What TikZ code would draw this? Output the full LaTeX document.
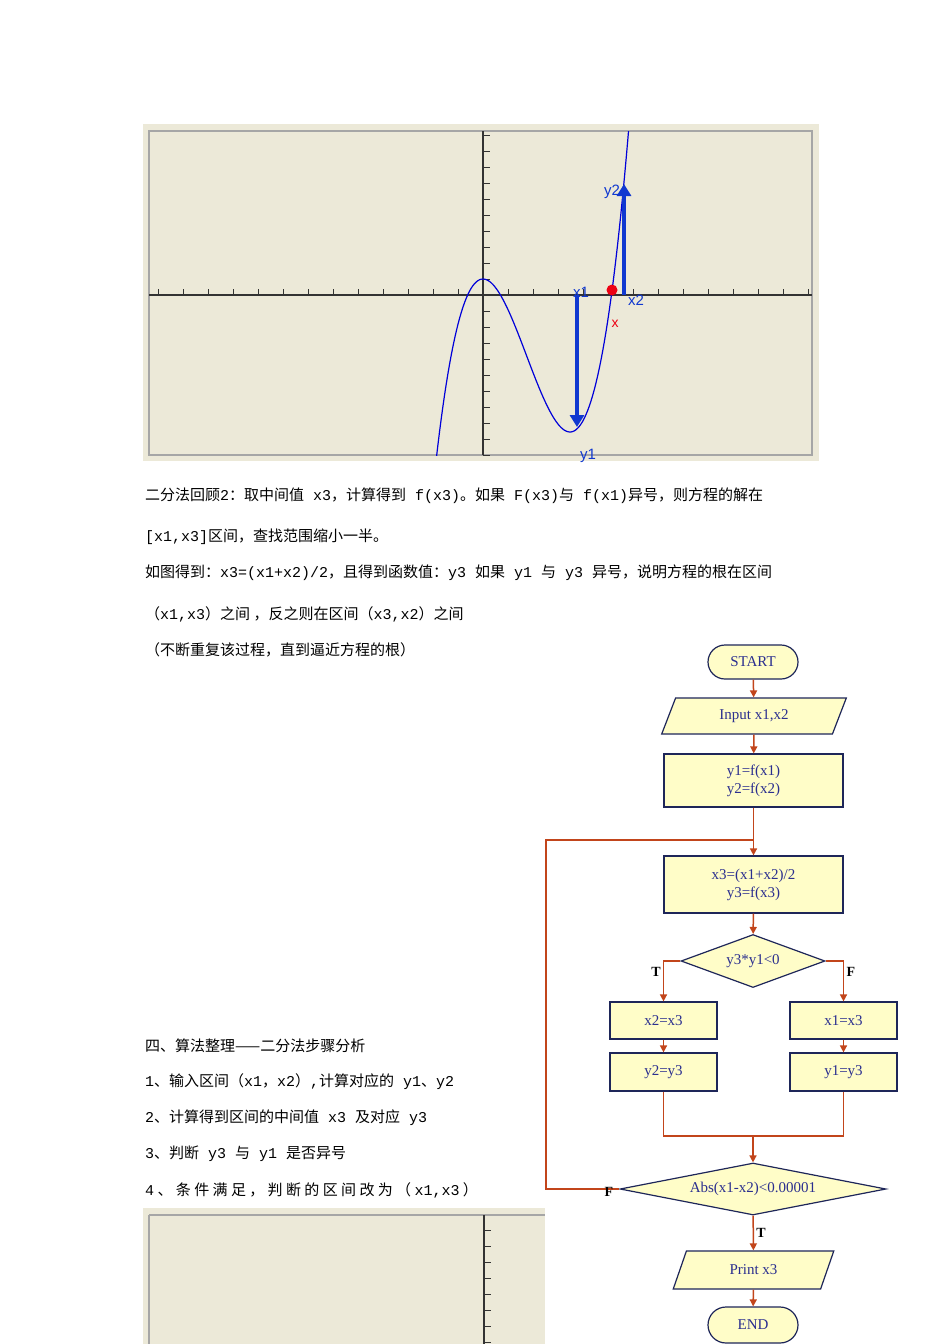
\documentclass[tikz,border=0pt]{standalone}
\usepackage{fontspec}
\setmainfont{Liberation Serif}
\newfontfamily\cjk{Noto Sans CJK SC}
\newfontfamily\lsans{Liberation Sans}
\newfontfamily\lmono{Liberation Mono}
\newcommand{\mm}[1]{{\lmono #1}}
\usetikzlibrary{shapes.geometric,arrows.meta}
\definecolor{fcfill}{HTML}{FFFDC8}
\definecolor{fcdraw}{HTML}{1E2659}
\definecolor{fctext}{HTML}{2B2F8F}
\definecolor{fcarrow}{HTML}{C2451B}
\definecolor{gbg}{HTML}{ECE9D8}
\definecolor{gblue}{HTML}{1038D0}
\tikzset{
 fcbox/.style={draw=fcdraw,line width=1.2pt,fill=fcfill,text=fctext,font=\fontsize{15}{18}\selectfont,align=center,inner sep=0pt},
 fcarr/.style={draw=fcarrow,line width=1.5pt,-{Triangle[length=7pt,width=7pt]}},
 fcline/.style={draw=fcarrow,line width=1.5pt},
 body/.style={anchor=west,font=\cjk\fontsize{15}{17}\selectfont,inner sep=0pt},
 tf/.style={font=\bfseries\fontsize{14}{16}\selectfont,inner sep=0pt},
 glab/.style={text=gblue,font=\lsans\fontsize{15}{17}\selectfont,inner sep=0pt},
 garr/.style={gblue,line width=4pt,-{Triangle[length=12pt,width=14pt]}}
}
\begin{document}
\begin{tikzpicture}[x=1pt,y=-1pt]
\useasboundingbox[fill=white] (0,0) rectangle (950,1344);
% graph 1
\fill[gbg] (143,124) rectangle (819,461);
\draw[gray!70,line width=1.5pt] (149,131) rectangle (812,455);
\draw[black!80,line width=1.2pt] (149,295) -- (812,295);
\draw[black!80,line width=1.2pt] (483,131) -- (483,455);
\foreach \i in {-13,...,13} {\draw[black!80] (483+25*\i,295) -- (483+25*\i,289);}
\foreach \i in {-10,...,10} {\draw[black!80] (483,295+16*\i) -- (490,295+16*\i);}
\begin{scope}
\clip (149,131) rectangle (812,455);
\draw[blue!85!black,line width=1.2pt,domain=-5:14.8,samples=120,variable=\t]
  plot ({483+10*\t},{295-(16+1.394*(\t*\t*\t/3-4.35*\t*\t))});
\end{scope}
\draw[garr] (577,295) -- (577,427);
\draw[garr] (624,295) -- (624,184);
\fill[red!70!purple] (612,290) circle (5.5);
\node[glab] (ly2) at (612,192) {y2};
\node[glab] (lx1) at (581,292) {x1};
\node[glab] (lx2) at (636,300) {x2};
\node[text=red!70!purple,font=\lsans\fontsize{14}{16}\selectfont,inner sep=0pt] (lx) at (615,324) {x};
\node[glab] (ly1) at (588,456) {y1};
% graph 2
\fill[gbg] (143,1208) rectangle (545,1344);
\draw[gray!70,line width=1.5pt] (149,1215) -- (545,1215);
\draw[gray!70,line width=1.5pt] (149,1215) -- (149,1344);
\draw[black!80,line width=1.2pt] (484,1215) -- (484,1344);
\foreach \i in {0,...,7} {\draw[black!80] (484,1230+16*\i) -- (491,1230+16*\i);}
% texts
\node[body] (t1) at (145,496) {二分法回顾\mm{2}：取中间值\mm{ x3}，计算得到\mm{ f(x3)}。如果\mm{ F(x3)}与\mm{ f(x1)}异号，则方程的解在};
\node[body] (t2) at (145,537) {\mm{[x1,x3]}区间，查找范围缩小一半。};
\node[body] (t3) at (145,573) {如图得到：\mm{x3=(x1+x2)/2}，且得到函数值：\mm{y3 }如果\mm{ y1 }与\mm{ y3 }异号，说明方程的根在区间};
\node[body] (t4) at (145,614) {（\mm{x1,x3}）之间 ，反之则在区间（\mm{x3,x2}）之间};
\node[body] (t5) at (145,650) {（不断重复该过程，直到逼近方程的根）};
\node[body] (t6) at (145,1046) {四、算法整理——二分法步骤分析};
\node[body] (t7) at (145,1082) {\mm{1}、输入区间（\mm{x1}，\mm{x2}）\mm{,}计算对应的\mm{ y1}、\mm{y2}};
\node[body] (t8) at (145,1118) {\mm{2}、计算得到区间的中间值\mm{ x3 }及对应\mm{ y3}};
\node[body] (t9) at (145,1154) {\mm{3}、判断\mm{ y3 }与\mm{ y1 }是否异号};
\node[body] (t10) at (145,1190) {\mm{4} 、 条 件 满 足 ， 判 断 的 区 间 改 为 （ \mm{x1,x3} ）};
% flowchart
\node[fcbox,rounded corners=17pt,minimum width=90pt,minimum height=34pt] (start) at (753,662) {START};
\node[fcbox,trapezium,trapezium left angle=65,trapezium right angle=115,minimum width=186pt,minimum height=36pt,trapezium stretches=true] (input) at (754,716) {Input x1,x2};
\node[fcbox,minimum width=179pt,minimum height=53pt] (yy) at (753.5,780.5) {y1=f(x1)\\y2=f(x2)};
\node[fcbox,minimum width=179pt,minimum height=57pt] (x3) at (753.5,884.5) {x3=(x1+x2)/2\\y3=f(x3)};
\node[fcbox,diamond,aspect=2.75,minimum width=144pt,minimum height=53pt] (d1) at (753,961) {y3*y1<0};
\node[fcbox,minimum width=107pt,minimum height=37pt] (a1) at (663.5,1020.5) {x2=x3};
\node[fcbox,minimum width=107pt,minimum height=37pt] (b1) at (843.5,1020.5) {x1=x3};
\node[fcbox,minimum width=107pt,minimum height=38pt] (a2) at (663.5,1072) {y2=y3};
\node[fcbox,minimum width=107pt,minimum height=38pt] (b2) at (843.5,1072) {y1=y3};
\coordinate (m) at (753,1136);
\node[fcbox,diamond,aspect=5.1,minimum width=266pt,minimum height=52pt] (d2) at (753,1189) {Abs(x1-x2)<0.00001};
\node[fcbox,trapezium,trapezium left angle=65,trapezium right angle=115,minimum width=161pt,minimum height=38pt,trapezium stretches=true] (print) at (753.5,1270) {Print x3};
\node[fcbox,rounded corners=18pt,minimum width=90pt,minimum height=36pt] (end) at (753,1325) {END};
\coordinate (loop) at (753,840);
\draw[fcarr] (start) -- (input);
\draw[fcarr] (input) -- (yy);
\draw[fcarr] (yy) -- (x3);
\draw[fcarr] (x3) -- (d1);
\draw[fcarr] (d1.west) -| (a1.north);
\draw[fcarr] (d1.east) -| (b1.north);
\draw[fcarr] (a1) -- (a2);
\draw[fcarr] (b1) -- (b2);
\draw[fcline] (a2.south) |- (m) -| (b2.south);
\draw[fcarr] (m) -- (d2.north);
\draw[fcline] (d2.west) -- (546,1189) |- (loop);
\draw[fcarr] (d2) -- (print);
\draw[fcarr] (print) -- (end);
\node[tf] (lt1) at (656,972) {T};
\node[tf] (lf1) at (851,972) {F};
\node[tf] (lf2) at (609,1192) {F};
\node[tf] (lt2) at (761,1233) {T};
\end{tikzpicture}
\end{document}
